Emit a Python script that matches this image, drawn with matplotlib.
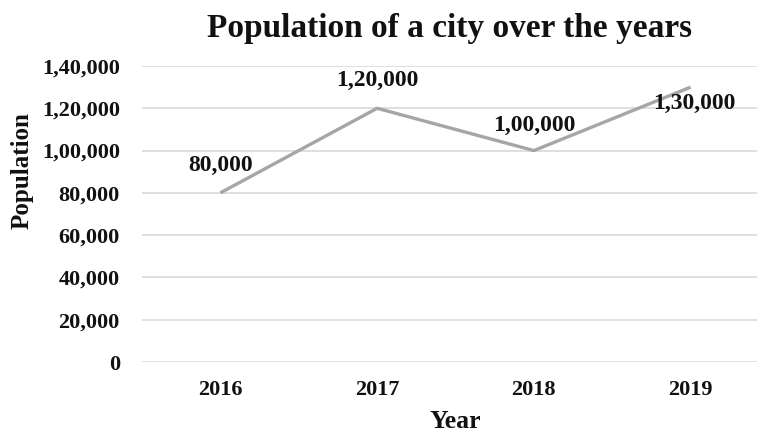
import matplotlib.pyplot as plt

years = ["2016", "2017", "2018", "2019"]
population = [80000, 120000, 100000, 130000]
label_text = ["80,000", "1,20,000", "1,00,000", "1,30,000"]
y_ticks = [0, 20000, 40000, 60000, 80000, 100000, 120000, 140000]
y_tick_labels = ["0", "20,000", "40,000", "60,000", "80,000", "1,00,000", "1,20,000", "1,40,000"]

plt.rcParams['font.family'] = ['Liberation Serif', 'DejaVu Serif']
plt.rcParams['font.weight'] = 'bold'

W, H = 757, 434
fig = plt.figure(figsize=(W / 100, H / 100), dpi=100)
# plot area in pixels: left 142, categories 156.7 px apart, 0 at y=362, 140k at y=66
ax = fig.add_axes([142 / W, (H - 362) / H, 627 / W, (362 - 66) / H])

x = list(range(len(years)))
ax.plot(x, population, color='#a6a6a6', lw=2.4, solid_capstyle='butt', zorder=3)

# data labels (offsets in points, label centre relative to the point)
offsets = [(0, 19.5), (0, 20), (0, 18), (3, -12)]
for xi, yi, t, off in zip(x, population, label_text, offsets):
    ax.annotate(t, (xi, yi), xytext=off, textcoords='offset points',
                ha='center', va='center', fontsize=17, fontweight='bold', color='#111111')

ax.set_xlim(-0.5, 3.5)
ax.set_ylim(0, 140000)
ax.set_xticks(x)
ax.set_xticklabels(years)
ax.set_yticks(y_ticks)
ax.set_yticklabels(y_tick_labels)
ax.tick_params(axis='both', length=0, labelsize=16, colors='#111111')
ax.tick_params(axis='x', pad=13)
ax.tick_params(axis='y', pad=16)
for lab in ax.get_xticklabels() + ax.get_yticklabels():
    lab.set_fontweight('bold')

ax.grid(axis='y', color='#d9d9d9', lw=1.2)
ax.set_axisbelow(True)
for s in ax.spines.values():
    s.set_visible(False)

fig.text(450 / W, 1 - 28 / H, "Population of a city over the years", ha='center', va='center',
         fontsize=24, fontweight='bold', color='#111111')
fig.text(455 / W, 1 - 421 / H, "Year", ha='center', va='center',
         fontsize=18.5, fontweight='bold', color='#111111')
fig.text(22 / W, 1 - 171 / H, "Population", ha='center', va='center', rotation=90,
         fontsize=18, fontweight='bold', color='#111111')

fig.savefig("out.png", dpi=100)
